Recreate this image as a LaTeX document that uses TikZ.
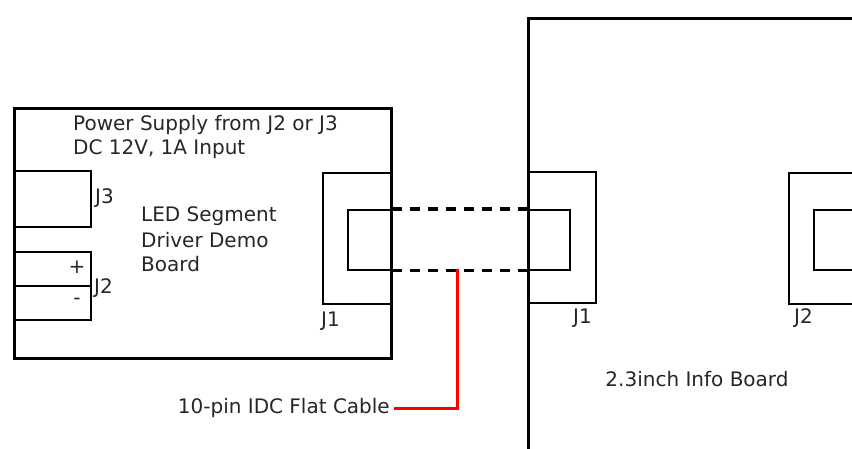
\documentclass[tikz,border=0pt]{standalone}
\usepackage{fontspec}
\setmainfont{DejaVu Sans}
\begin{document}
\begin{tikzpicture}[x=1pt,y=-1pt,
  board/.style={draw=black,line width=3pt,inner sep=0pt,anchor=north west},
  conn/.style={draw=black,line width=2.4pt,inner sep=0pt,anchor=north west},
  inner/.style={draw=black,line width=1.5pt,inner sep=0pt,anchor=north west},
  lbl/.style={font=\fontsize{20}{24}\selectfont,text=black!85,inner sep=0pt,anchor=west},
  dashcable/.style={line width=3.5pt,dash pattern=on 10pt off 8pt},
  redcable/.style={draw=red,line width=3pt}]
\useasboundingbox (0,0) rectangle (852,448);
\clip (0,0) rectangle (852,448);
% left board
\node[board,minimum width=377pt,minimum height=250pt] (lb) at (13,107) {};
\node[conn,minimum width=77pt,minimum height=56pt] (j3) at (13,170) {};
\node[conn,minimum width=77pt,minimum height=68pt] (j2) at (13,251) {};
\draw[line width=2.4pt] (j2.west) -- (j2.east);
\node[lbl,anchor=center] (plus) at (77,267) {+};
\node[lbl,anchor=center] (minus) at (77,301) {-};
\node[lbl] (tj3) at (95,198) {J3};
\node[lbl] (tj2) at (94,288) {J2};
\node[lbl] (t1) at (73,125) {Power Supply from J2 or J3};
\node[lbl] (t2) at (73,149) {DC 12V, 1A Input};
\node[lbl] (t3) at (141,216) {LED Segment};
\node[lbl] (t4) at (141,240) {Driver Demo};
\node[lbl] (t5) at (141,264) {Board};
\node[conn,minimum width=68pt,minimum height=131pt] (lj1) at (322,172) {};
\node[inner,minimum width=43pt,minimum height=60pt] (lj1in) at (347,209) {};
\node[lbl] (tlj1) at (321,321) {J1};
% right board
\node[board,minimum width=400pt,minimum height=500pt] (rb) at (527,17) {};
\node[conn,minimum width=68pt,minimum height=131pt] (rj1) at (527,171) {};
\node[inner,minimum width=42pt,minimum height=60pt] (rj1in) at (527,209) {};
\node[lbl] (trj1) at (573,318) {J1};
\node[conn,minimum width=120pt,minimum height=131pt] (rj2) at (788,172) {};
\node[inner,minimum width=100pt,minimum height=60pt] (rj2in) at (813,209) {};
\node[lbl] (trj2) at (794,318) {J2};
\node[lbl,anchor=center] (tinfo) at (697,379) {2.3inch Info Board};
% cable
\draw[dashcable] (lj1in.north east) -- (rj1in.north west);
\draw[dashcable] (lj1in.south east) -- (rj1in.south west);
\coordinate (tap) at (457,269);
\node[lbl,anchor=east] (tcable) at (390,408) {10-pin IDC Flat Cable};
\draw[redcable] (tap) |- ([xshift=4pt]tcable.east);
\end{tikzpicture}
\end{document}
